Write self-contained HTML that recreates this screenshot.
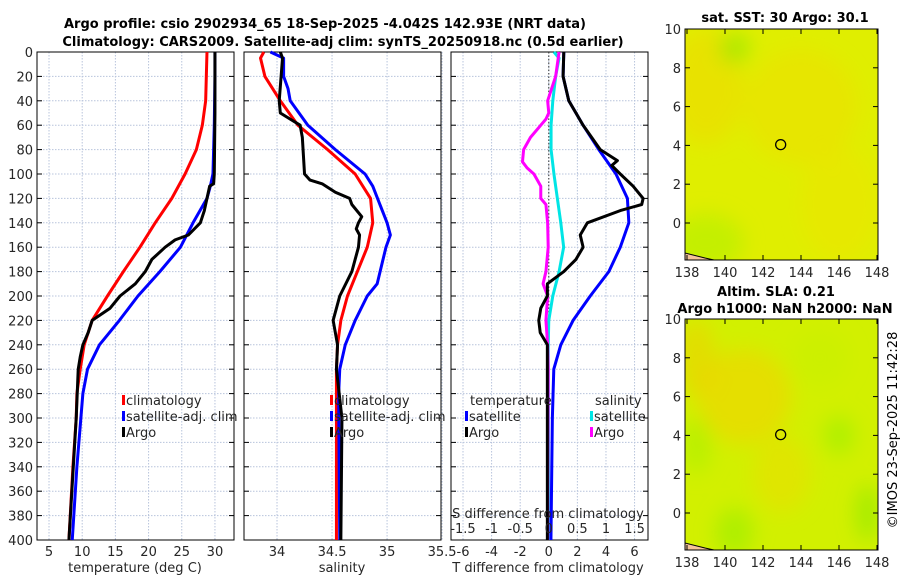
<!DOCTYPE html>
<html><head><meta charset="utf-8"><style>
body{margin:0;background:#fff;}
svg text{font-family:"DejaVu Sans","Liberation Sans",sans-serif;}
</style></head><body>
<svg id="chart" width="900" height="580" viewBox="0 0 900 580" xmlns="http://www.w3.org/2000/svg">
<defs>
<filter id="blur" x="-50%" y="-50%" width="200%" height="200%"><feGaussianBlur stdDeviation="10"/></filter>
<clipPath id="clipTop"><rect x="685" y="29" width="193" height="231"/></clipPath>
<clipPath id="clipBot"><rect x="685" y="319" width="193" height="231"/></clipPath>
</defs>
<text x="325" y="28" text-anchor="middle" font-size="13" font-weight="bold">Argo profile: csio 2902934_65 18-Sep-2025 -4.042S 142.93E (NRT data)</text>
<text x="343" y="46" text-anchor="middle" font-size="13" font-weight="bold">Climatology: CARS2009. Satellite-adj clim: synTS_20250918.nc (0.5d earlier)</text>
<g id="plots"></g>
<text x="785" y="22" text-anchor="middle" font-size="13" font-weight="bold">sat. SST: 30 Argo: 30.1</text>
<text x="776" y="296" text-anchor="middle" font-size="13" font-weight="bold">Altim. SLA: 0.21</text>
<text x="785" y="313" text-anchor="middle" font-size="13" font-weight="bold">Argo h1000: NaN h2000: NaN</text>
<text transform="translate(897,430) rotate(-90)" text-anchor="middle" font-size="13">©IMOS 23-Sep-2025 11:42:28</text>
</svg>
<script>
// ---- data ----
const depthTicks=[0,20,40,60,80,100,120,140,160,180,200,220,240,260,280,300,320,340,360,380,400];
const tempTicks=[5,10,15,20,25,30];
const salTicks=[34,34.5,35,35.5];
const tdiffTicks=[-6,-4,-2,0,2,4,6];
const sdiffTicks=[-1.5,-1,-0.5,0,0.5,1,1.5];
const climTDepth=[0,20,40,60,80,100,120,140,160,180,200,220,240,260,280,300,340,400];
const climT=[28.8,28.7,28.6,28.1,27.2,25.5,23.5,21.0,18.7,16.2,13.8,11.5,10.3,9.7,9.2,9.1,8.6,8.0];
const satTDepth=[0,20,60,100,110,120,140,160,180,200,220,240,260,280,300,340,400];
const satT=[30.0,30.0,29.9,29.7,29.3,28.8,26.7,24.8,21.7,18.4,15.6,12.6,10.8,10.1,9.8,9.2,8.5];
const argoTDepth=[0,50,100,108,110,130,140,150,154,160,170,180,190,200,210,220,230,240,250,260,300,400];
const argoT=[30.0,30.0,29.9,29.8,29.2,28.4,27.8,26.0,24.0,22.5,20.5,19.5,18.0,15.7,14.2,11.5,10.9,10.1,9.7,9.4,9.1,8.0];
const climSDepth=[0,5,20,40,60,80,100,120,140,160,180,200,220,240,260,300,400];
const climS=[33.88,33.85,33.89,34.03,34.19,34.46,34.71,34.85,34.87,34.82,34.73,34.64,34.58,34.55,34.54,34.54,34.54];
const satSDepth=[0,5,20,30,40,60,80,100,110,140,150,160,190,200,220,240,260,280,400];
const satS=[33.94,34.06,34.06,34.1,34.12,34.28,34.53,34.8,34.87,35.0,35.03,34.99,34.91,34.82,34.71,34.62,34.57,34.56,34.57];
const argoSDepth=[0,5,40,50,55,60,70,100,105,108,115,120,125,135,140,145,150,160,170,180,200,220,230,240,260,300,400];
const argoS=[34.03,34.05,34.02,34.03,34.12,34.21,34.23,34.25,34.3,34.41,34.53,34.66,34.68,34.77,34.74,34.72,34.75,34.74,34.71,34.68,34.57,34.51,34.53,34.55,34.54,34.59,34.58];
const tdSatDepth=[0,20,40,60,80,100,120,140,160,180,200,220,240,260,300,400];
const tdSat=[1.05,1.0,1.4,2.4,3.5,4.7,5.5,5.6,5.0,4.2,2.9,1.7,0.84,0.35,0.25,0.15];
const tdArgoDepth=[0,20,40,60,80,89,93,100,110,120,125,130,140,150,160,170,180,190,200,210,220,230,240,260,300,400];
const tdArgo=[1.05,1.0,1.4,2.4,3.6,4.8,4.4,5.0,5.9,6.6,6.5,5.0,2.7,2.2,2.4,1.9,1.05,-0.1,-0.1,-0.56,-0.7,-0.6,-0.1,-0.1,-0.1,-0.1];
const sdSatDepth=[0,5,20,40,60,80,100,120,140,160,180,200,220,240,400];
const sdSat=[0.09,0.18,0.12,0.07,0.04,0.04,0.09,0.15,0.21,0.26,0.18,0.07,0.0,-0.01,0.0];
const sdArgoDepth=[0,20,40,50,55,60,70,80,90,95,100,110,120,125,140,160,180,190,200,220,240,260,400];
const sdArgo=[0.18,0.12,-0.02,0.0,-0.05,-0.14,-0.32,-0.44,-0.46,-0.38,-0.26,-0.14,-0.14,-0.05,-0.02,-0.01,-0.05,-0.1,-0.02,-0.05,-0.02,-0.01,-0.02];
const lonTicks=[138,140,142,144,146,148];
const latTicks=[0,2,4,6,8,10];
const argoLon=142.93, argoLat=4.04;

const NS='http://www.w3.org/2000/svg';
const root=document.getElementById('plots');
function mk(tag,attrs,parent){const e=document.createElementNS(NS,tag);for(const k in attrs)e.setAttribute(k,attrs[k]);(parent||root).appendChild(e);return e;}
const Y0=52,Y1=540;
const yD=d=>Y0+d*(Y1-Y0)/400;
function xScale(x0,x1,v0,v1){return v=>x0+(v-v0)*(x1-x0)/(v1-v0);}
const xT=xScale(37,234,3.19,32.87);
const xS=xScale(244,441,33.7,35.49);
const xTD=xScale(451,648,-6.84,6.94);
const xSD=v=>xTD(v*4);

function panel(name,x0,x1,xf,ticks,fmt,showY){
  const g=mk('g',{});
  
  
  ticks.forEach(t=>{const x=xf(t);mk('line',{x1:x,x2:x,y1:Y0,y2:Y1,stroke:'#b8c4dc','stroke-width':1,'stroke-dasharray':'1.5,1.5'},g);});
  depthTicks.forEach(d=>{const y=yD(d);mk('line',{x1:x0,x2:x1,y1:y,y2:y,stroke:'#b8c4dc','stroke-width':1,'stroke-dasharray':'1.5,1.5'},g);
    mk('line',{x1:x0,x2:x0+5,y1:y,y2:y,stroke:'#000'},g);mk('line',{x1:x1-5,x2:x1,y1:y,y2:y,stroke:'#000'},g);
    if(showY){const t=mk('text',{x:x0-4,y:y+5,'text-anchor':'end','font-size':13,fill:'#262626'},g);t.textContent=d;}});
  mk('rect',{x:x0,y:Y0,width:x1-x0,height:Y1-Y0,fill:'none',stroke:'#000','stroke-width':1},g);
  if(fmt){ticks.forEach(t=>{const x=xf(t);const tl=mk('text',{x:x,y:556,'text-anchor':'middle','font-size':13,fill:'#262626'},g);tl.textContent=fmt(t);});}
  return g;
}
function line(g,name,xs,ds,xf,color){
  const p=mk('polyline',{points:xs.map((v,i)=>xf(v)+','+yD(ds[i])).join(' '),fill:'none',stroke:color,'stroke-width':3,'stroke-linejoin':'round'},g);
  
  
}
function legendEntry(g,name,x,y,color,label){
  const e=mk('g',{},g);
  
  
  mk('rect',{x:x,y:y-9,width:3,height:10,fill:color},e);
  const t=mk('text',{x:x+4,y:y+1,'font-size':13,fill:'#262626'},e);t.textContent=label;
}
const g1=panel('temperature-panel',37,234,xT,tempTicks,t=>t,true);
line(g1,'temp-climatology-line',climT,climTDepth,xT,'#ff0000');
line(g1,'temp-satellite-line',satT,satTDepth,xT,'#0000ff');
line(g1,'temp-argo-line',argoT,argoTDepth,xT,'#000');
legendEntry(g1,'legend-climatology',122,404,'#ff0000','climatology');
legendEntry(g1,'legend-satellite-adj',122,420,'#0000ff','satellite-adj. clim');
legendEntry(g1,'legend-argo',122,436,'#000','Argo');
let tl=mk('text',{x:135,y:572,'text-anchor':'middle','font-size':13,fill:'#262626'},g1);tl.textContent='temperature (deg C)';


const g2=panel('salinity-panel',244,441,xS,salTicks,t=>t,false);
line(g2,'sal-climatology-line',climS,climSDepth,xS,'#ff0000');
line(g2,'sal-satellite-line',satS,satSDepth,xS,'#0000ff');
line(g2,'sal-argo-line',argoS,argoSDepth,xS,'#000');
legendEntry(g2,'legend-sal-climatology',330,404,'#ff0000','climatology');
legendEntry(g2,'legend-sal-satellite-adj',330,420,'#0000ff','satellite-adj. clim');
legendEntry(g2,'legend-sal-argo',330,436,'#000','Argo');
tl=mk('text',{x:342,y:572,'text-anchor':'middle','font-size':13,fill:'#262626'},g2);tl.textContent='salinity';


const g3=panel('difference-panel',451,648,xTD,tdiffTicks,t=>t,false);
mk('line',{x1:xTD(0),x2:xTD(0),y1:Y0,y2:Y1,stroke:'#333','stroke-width':1,'stroke-dasharray':'1.5,2'},g3);
line(g3,'sdiff-satellite-line',sdSat,sdSatDepth,xSD,'#00e5e5');
line(g3,'sdiff-argo-line',sdArgo,sdArgoDepth,xSD,'#ff00ff');
line(g3,'tdiff-satellite-line',tdSat,tdSatDepth,xTD,'#0000ff');
line(g3,'tdiff-argo-line',tdArgo,tdArgoDepth,xTD,'#000');
let lt=mk('text',{x:470,y:405,'font-size':13,fill:'#262626'},g3);lt.textContent='temperature';
let ls=mk('text',{x:595,y:405,'font-size':13,fill:'#262626'},g3);ls.textContent='salinity';
legendEntry(g3,'legend-tdiff-satellite',465,420,'#0000ff','satellite');
legendEntry(g3,'legend-tdiff-argo',465,436,'#000','Argo');
legendEntry(g3,'legend-sdiff-satellite',590,420,'#00e5e5','satellite');
legendEntry(g3,'legend-sdiff-argo',590,436,'#ff00ff','Argo');
sdiffTicks.forEach(t=>{const x=xSD(t);const s=mk('text',{x:x,y:533,'text-anchor':'middle','font-size':13,fill:'#262626'},g3);s.textContent=t;});
tl=mk('text',{x:548,y:518,'text-anchor':'middle','font-size':13,fill:'#262626'},g3);tl.textContent='S difference from climatology';


tl=mk('text',{x:548,y:572,'text-anchor':'middle','font-size':13,fill:'#262626'},g3);tl.textContent='T difference from climatology';



function map(name,top,clip,base,blobs){
  const g=mk('g',{});
  
  
  const lx=v=>687+(v-138)*19;
  const ly=v=>top+194-v*19.4;
  const inner=mk('g',{'clip-path':'url(#'+clip+')'},g);
  mk('rect',{x:685,y:top,width:193,height:231,fill:base},inner);
  const bg=mk('g',{filter:'url(#blur)'},inner);
  blobs.forEach(b=>mk('ellipse',{cx:lx(b[0]),cy:ly(b[1]),rx:b[2]*19,ry:b[3]*19,fill:b[4],opacity:b[5]},bg));
  mk('path',{d:`M685 ${top+231} L685 ${top+224} L705 ${top+229} L714 ${top+231} Z`,fill:'#f5c49a',stroke:'#000','stroke-width':1},inner);
  mk('rect',{x:685,y:top,width:193,height:231,fill:'none',stroke:'#000'},g);
  const c=mk('circle',{cx:lx(argoLon),cy:ly(argoLat),r:5,fill:'none',stroke:'#000','stroke-width':1.3},g);
  
  
  lonTicks.forEach(v=>{const x=lx(v);mk('line',{x1:x,x2:x,y1:top+231,y2:top+226,stroke:'#000'},g);mk('line',{x1:x,x2:x,y1:top,y2:top+5,stroke:'#000'},g);
    const t=mk('text',{x:x,y:top+248,'text-anchor':'middle','font-size':13,fill:'#262626'},g);t.textContent=v;});
  latTicks.forEach(v=>{const y=ly(v);mk('line',{x1:685,x2:690,y1:y,y2:y,stroke:'#000'},g);mk('line',{x1:873,x2:878,y1:y,y2:y,stroke:'#000'},g);
    const t=mk('text',{x:681,y:y+5,'text-anchor':'end','font-size':13,fill:'#262626'},g);t.textContent=v;});
}
const sstBlobs=[[139,7,2,3,'#f0d800',0.5],[144,6,3,3,'#f0dc00',0.45],[139,-1,2,1.5,'#b8f000',0.7],[140.5,9,0.8,0.8,'#70e800',0.5],[146,1,2,3,'#f0e000',0.4]];
const slaBlobs=[[141,6,2.5,2.5,'#f2d400',0.6],[138.5,8,1,2,'#f2cc00',0.5],[143,2,1.5,2,'#eedc00',0.5],[146,4,0.8,1,'#a0f000',0.7],[138.5,3.5,0.8,1.5,'#b0f000',0.7],[140.5,-1,1,1.3,'#a0ee00',0.7],[147.5,0,0.6,1.5,'#90ea00',0.7],[145,8,1.5,1.5,'#c8f000',0.5]];
map('sst-map',29,'clipTop','#e0ee00',sstBlobs);
map('sla-map',319,'clipBot','#d2f000',slaBlobs);
</script>
</body></html>
